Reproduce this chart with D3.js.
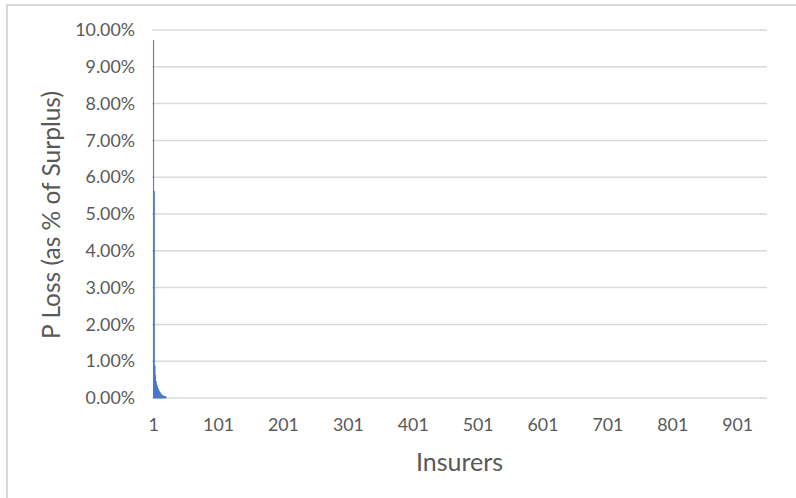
<!DOCTYPE html>
<html>
<head>
<meta charset="utf-8">
<script src="https://cdn.jsdelivr.net/npm/d3@7"></script>
<style>
  html, body { margin: 0; padding: 0; background: #ffffff; }
  svg { display: block; }
  text { font-family: Lato, "Open Sans", sans-serif; }
</style>
</head>
<body>
<svg id="chart" width="796" height="498"></svg>
<script>
// ---- data ----
const insurerCount = 946;               // number of insurers on the category axis
// P Loss (as % of Surplus) for the insurers with a visible value, in rank order
const pLossPct = [9.72, 5.62, 0.87, 0.62, 0.45, 0.36, 0.31, 0.26, 0.22, 0.18,
                  0.15, 0.12, 0.10, 0.08, 0.07, 0.06, 0.05, 0.04, 0.04, 0.03];
const yTickValues = [0, 1, 2, 3, 4, 5, 6, 7, 8, 9, 10];
const xTickLabels = [1, 101, 201, 301, 401, 501, 601, 701, 801, 901];
const xAxisTitle = "Insurers";
const yAxisTitle = "P Loss (as % of Surplus)";

// ---- layout ----
const W = 796, H = 498;
const plot = { left: 152, right: 767, top: 30, bottom: 398 };

const svg = d3.select("#chart");

// chart-area border (extends beyond the visible window)
svg.append("rect")
  .attr("x", 7).attr("y", 5)
  .attr("width", W + 20).attr("height", H + 20)
  .attr("fill", "#ffffff")
  .attr("stroke", "#d9d9d9").attr("stroke-width", 2);

const categories = d3.range(1, insurerCount + 1);
const x = d3.scaleBand().domain(categories).range([plot.left + 1.2, plot.right]).padding(0);
const y = d3.scaleLinear().domain([0, 10]).range([plot.bottom, plot.top]);

// gridlines
svg.append("g")
  .selectAll("line")
  .data(yTickValues)
  .join("line")
  .attr("x1", plot.left).attr("x2", plot.right)
  .attr("y1", d => y(d)).attr("y2", d => y(d))
  .attr("stroke", "#d9d9d9").attr("stroke-width", 1.5);

// y axis labels
const yAxis = d3.axisLeft(y)
  .tickValues(yTickValues)
  .tickFormat(d => d3.format(".2%")(d / 100))
  .tickSize(0).tickPadding(17);
const gy = svg.append("g").attr("transform", `translate(${plot.left},0)`).call(yAxis);
gy.select(".domain").remove();
gy.selectAll("text")
  .attr("fill", "#595959")
  .style("font-size", "17.8px")
  .style("font-family", "Lato, sans-serif");

// x axis labels
const xAxis = d3.axisBottom(x)
  .tickValues(xTickLabels)
  .tickSize(0).tickPadding(20);
const gx = svg.append("g").attr("transform", `translate(0,${plot.bottom})`).call(xAxis);
gx.select(".domain").remove();
gx.selectAll("text")
  .attr("fill", "#595959")
  .style("font-size", "17.8px")
  .style("font-family", "Lato, sans-serif");

// bars
svg.append("g")
  .selectAll("rect")
  .data(pLossPct)
  .join("rect")
  .attr("x", (d, i) => x(categories[i]))
  .attr("width", x.bandwidth())
  .attr("y", d => y(d))
  .attr("height", d => y(0) - y(d))
  .attr("fill", "#4472c4")
  .attr("stroke", "#4472c4")
  .attr("stroke-width", 0.5);

// axis titles
svg.append("text")
  .attr("x", (plot.left + plot.right) / 2)
  .attr("y", 471)
  .attr("text-anchor", "middle")
  .attr("fill", "#595959")
  .style("font-size", "25px")
  .text(xAxisTitle);

svg.append("text")
  .attr("transform", `translate(60,${(plot.top + plot.bottom) / 2 + 1}) rotate(-90)`)
  .attr("text-anchor", "middle")
  .attr("fill", "#595959")
  .style("font-size", "24.5px")
  .text(yAxisTitle);
</script>
</body>
</html>
